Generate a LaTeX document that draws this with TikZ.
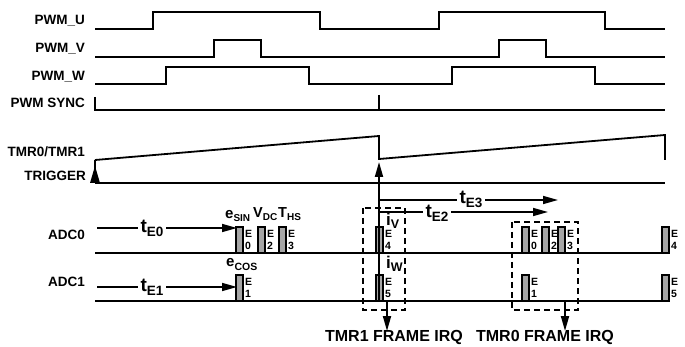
\documentclass[tikz,border=0pt]{standalone}
\usepackage{fontspec}
\setmainfont{Liberation Sans}
\usetikzlibrary{arrows.meta}
\newcommand{\tlab}[1]{{\fontsize{19}{19}\selectfont t}\raisebox{-4pt}{\fontsize{13.5}{13.5}\selectfont #1}}
\newcommand{\sublab}[4]{{\fontsize{#3}{#3}\selectfont #1}\raisebox{-3pt}{\fontsize{#4}{#4}\selectfont #2}}
\begin{document}
\begin{tikzpicture}[x=1pt,y=-1pt,
  sig/.style={line width=1.8pt, line join=miter},
  base/.style={line width=2.2pt},
  adcbox/.style={draw, line width=1.3pt, fill=black!35},
  dbox/.style={line width=1.3pt, dash pattern=on 6pt off 4pt},
  lbl/.style={font=\fontsize{13.5}{13.5}\selectfont\bfseries, anchor=base east, inner sep=0pt},
  elbl/.style={font=\fontsize{10.5}{10.5}\selectfont\bfseries, anchor=base west, inner sep=0pt},
  tl/.style={font=\bfseries, fill=white, inner xsep=3pt, inner ysep=1pt},
  sl/.style={font=\bfseries, anchor=base west, inner sep=0pt},
  irq/.style={font=\fontsize{16}{16}\selectfont\bfseries, anchor=base, inner sep=0pt},
  tip/.style={-{Triangle[length=15pt,width=8pt]}}]
\useasboundingbox (0,0) rectangle (685,347);

% labels
\node[lbl] (lu) at (85,25) {PWM\_U};
\node[lbl] (lv) at (85,53) {PWM\_V};
\node[lbl] (lw) at (85,81) {PWM\_W};
\node[lbl] (ls) at (85,108) {PWM SYNC};
\node[lbl] (lt) at (85,157) {TMR0/TMR1};
\node[lbl] (ltr) at (86,181) {TRIGGER};
\node[lbl] (la0) at (85,240) {ADC0};
\node[lbl] (la1) at (85,287) {ADC1};

% PWM signals
\draw[sig] (95,29) -- (153,29) -- (153,12) -- (320,12) -- (320,29) -- (439,29) -- (439,12) -- (605,12) -- (605,29) -- (665,29);
\draw[sig] (95,57) -- (214,57) -- (214,40) -- (261,40) -- (261,57) -- (499,57) -- (499,40) -- (546,40) -- (546,57) -- (665,57);
\draw[sig] (95,84) -- (166,84) -- (166,67) -- (309,67) -- (309,84) -- (452,84) -- (452,67) -- (595,67) -- (595,84) -- (665,84);
\draw[sig] (95,97) -- (95,110) -- (665,110);
\draw[sig] (379,95) -- (379,110);

% timer ramp and trigger
\draw[sig] (95,160) -- (379,136) -- (379,159) -- (665,135) -- (665,160);
\draw[sig] (95,183) -- (665,183);
\draw[sig] (95,183) -- (95,160);
\fill (90,183) -- (100,183) -- (95,166) -- cycle;

% ADC baselines
\draw[base] (95,253) -- (668,253);
\draw[base] (95,301) -- (668,301);

% time arrows
\coordinate (s0) at (97,228); \coordinate (e0) at (237,228);
\coordinate (s1) at (97,287); \coordinate (e1) at (237,287);
\coordinate (s3) at (379,200); \coordinate (e3) at (558,200);
\coordinate (s2) at (379,212); \coordinate (e2) at (548,212);
\draw[sig, line width=1.5pt, tip] (s0) -- (e0);
\draw[sig, line width=1.5pt, tip] (s1) -- (e1);
\draw[sig, line width=1.5pt, tip] (s3) -- (e3);
\draw[sig, line width=1.5pt, tip] (s2) -- (e2);
\node[tl] (t0) at (152,228) {\tlab{E0}};
\node[tl] (t1) at (152,287) {\tlab{E1}};
\node[tl] (t3) at (471,199) {\tlab{E3}};
\node[tl] (t2) at (437,213) {\tlab{E2}};

% dashed frames
\draw[dbox] (363,208) rectangle (405,310);
\draw[dbox] (512,222) rectangle (578,310);

% ADC conversion boxes
\foreach \x/\n in {236/0, 258/2, 279/3, 376/4, 522/0, 542/2, 558/3, 662/4} {
  \draw[adcbox] (\x,227) rectangle ++(7,26);
  \node[elbl] at (\x+9,238) {E};
  \node[elbl] at (\x+9,250) {\n};
}
\foreach \x/\n in {236/1, 376/5, 522/1, 662/5} {
  \draw[adcbox] (\x,275) rectangle ++(7,26);
  \node[elbl] at (\x+9,286) {E};
  \node[elbl] at (\x+9,298) {\n};
}

% main trigger arrow
\draw[sig, -{Triangle[length=15pt,width=8pt]}] (379,300) -- (379,162);

% channel labels
\node[sl] (esin) at (225,219) {\sublab{e}{SIN}{15}{10}};
\node[sl] (vdc) at (253,218) {\sublab{V}{DC}{14.5}{10}};
\node[sl] (ths) at (278,218) {\sublab{T}{HS}{14.5}{10}};
\node[sl] (ecos) at (226,267) {\sublab{e}{COS}{15}{10.5}};
\node[sl] (iv) at (386,226) {\sublab{i}{V}{17}{12.5}};
\node[sl] (iw) at (386,269) {\sublab{i}{W}{17}{12.5}};

% IRQ arrows
\coordinate (q1) at (387,301); \coordinate (q1e) at (387,331);
\coordinate (q0) at (565,301); \coordinate (q0e) at (565,331);
\draw[sig, tip] (q1) -- (q1e);
\draw[sig, tip] (q0) -- (q0e);
\node[irq] (irq1) at (394,341) {TMR1 FRAME IRQ};
\node[irq] (irq0) at (545,341) {TMR0 FRAME IRQ};
\end{tikzpicture}
\end{document}
